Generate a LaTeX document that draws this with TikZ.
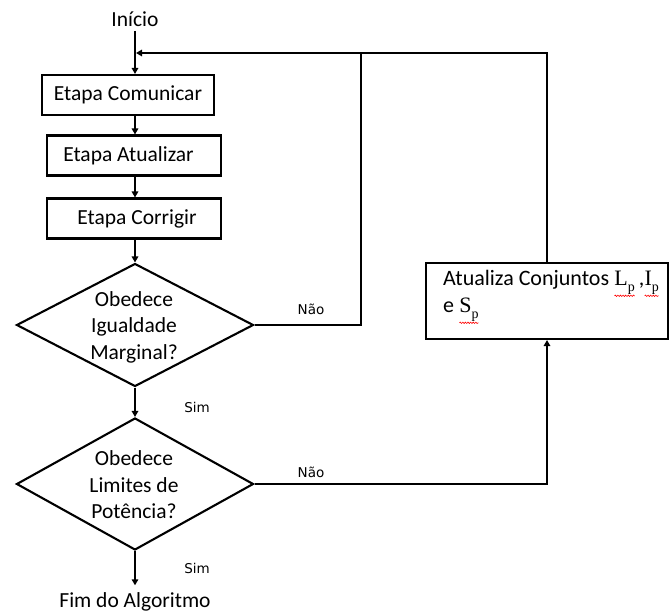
\documentclass[tikz,border=0pt]{standalone}
\usepackage{fontspec}
\setmainfont{Carlito}
\newfontfamily\lblfont{DejaVu Sans}
\newfontfamily\symfont{Liberation Serif}
\usetikzlibrary{arrows.meta,shapes.geometric,decorations.pathmorphing}

% spell-check style red wavy underline
\newcommand\sqline[1]{\tikz[baseline=(w.base)]{\node[inner sep=0pt,outer sep=0pt](w){#1};\draw[red,line width=0.6pt,decorate,decoration={snake,amplitude=0.7pt,segment length=2.6pt}]([yshift=-1.2pt]w.south west)--([yshift=-1.2pt]w.south east);}}
% set symbol with subscript
\newcommand\varsub[2]{{\symfont #1}\raisebox{-0.28em}{\fontsize{14}{14}\symfont #2}}

\begin{document}
\begin{tikzpicture}[x=1pt,y=-1pt,line width=2.1pt,
  stepbox/.style={draw,rectangle,minimum height=40pt,inner sep=0pt},
  decision/.style={draw,diamond,minimum width=237pt,inner sep=0pt},
  flow/.style={-{Triangle[length=6pt,width=6.5pt]}},
  txt/.style={font=\fontsize{21.5}{26.5}\selectfont,align=center},
  lbl/.style={font=\lblfont\fontsize{13.5}{16}\selectfont}]
\useasboundingbox (0,0) rectangle (670,613);
\fill[white] (0,0) rectangle (670,613);

% main column
\node[txt] (ini) at (135,19) {Início};
\node[stepbox,txt,minimum width=172pt] (com) at (128,95) {Etapa Comunicar};
\node[stepbox,txt,minimum width=174pt] (atu) at (134,155.5) {Etapa Atualizar\kern11pt};
\node[stepbox,txt,minimum width=174pt] (cor) at (134,218.5) {\kern6pt Etapa Corrigir};
\node[decision,minimum height=123pt] (d1) at (135,325) {};
\node[txt] (d1t) at (134,327) {Obedece\\Igualdade\\Marginal?};
\node[decision,minimum height=132pt] (d2) at (135,484) {};
\node[txt] (d2t) at (134,485) {Obedece\\Limites de\\Potência?};
\node[txt] (fim) at (135,602) {Fim do Algoritmo};

% update box
\node[draw,rectangle,minimum width=242pt,minimum height=76pt] (upd) at (547,301) {};
\node[txt,align=left,anchor=west,inner sep=0pt,font=\fontsize{22}{27}\selectfont] (updt) at (443,297)
  {Atualiza Conjuntos \sqline{\varsub{L}{p}}\,,\sqline{\varsub{I}{p}}\\e \sqline{\varsub{S}{p}}};

% connectors
\coordinate (join) at (136,53);
\coordinate (fb1) at (361,53);
\draw[flow] (ini.south) -- (ini.south |- com.north);
\draw[flow] (com.south -| ini) -- (atu.north -| ini);
\draw[flow] (atu.south -| ini) -- (cor.north -| ini);
\draw[flow] (cor.south -| ini) -- (d1.north);
\draw[flow] (d1.south) -- (d2.north);
\draw[flow,shorten >=3pt] (d2.south) -- (fim.north);
\draw (d1.east) -| (fb1);
\draw (upd.north) |- (fb1);
\draw[flow] (fb1) -- (join);
\draw[flow] (d2.east) -| (upd.south);

% branch labels
\node[lbl] (n1) at (311,309) {Não};
\node[lbl] (s1) at (197,407) {Sim};
\node[lbl] (n2) at (311,472) {Não};
\node[lbl] (s2) at (197,568) {Sim};
\end{tikzpicture}
\end{document}
